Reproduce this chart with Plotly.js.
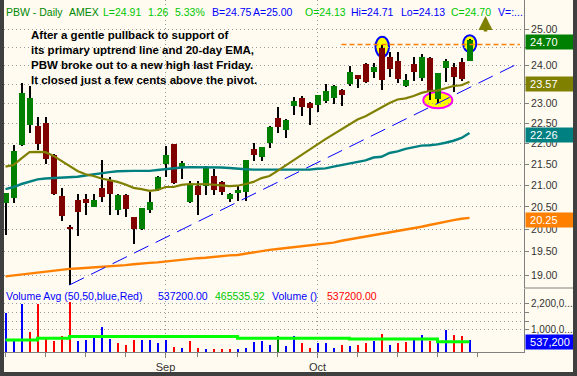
<!DOCTYPE html>
<html><head><meta charset="utf-8">
<script src="https://cdn.plot.ly/plotly-3.0.1.min.js"></script>
<style>
html,body{margin:0;padding:0;background:#3f3f3f;overflow:hidden;width:577px;height:376px;}
#chart{position:absolute;left:4px;top:0;width:569px;height:372px;}
</style></head><body><div id="chart"></div>
<script>
const dates = ['2007-08-06','2007-08-07','2007-08-08','2007-08-09','2007-08-10','2007-08-13','2007-08-14','2007-08-15','2007-08-16','2007-08-17',
 '2007-08-20','2007-08-21','2007-08-22','2007-08-23','2007-08-24','2007-08-27','2007-08-28','2007-08-29','2007-08-30','2007-08-31',
 '2007-09-04','2007-09-05','2007-09-06','2007-09-07','2007-09-10','2007-09-11','2007-09-12','2007-09-13','2007-09-14',
 '2007-09-17','2007-09-18','2007-09-19','2007-09-20','2007-09-21','2007-09-24','2007-09-25','2007-09-26','2007-09-27','2007-09-28',
 '2007-10-01','2007-10-02','2007-10-03','2007-10-04','2007-10-05','2007-10-08','2007-10-09','2007-10-10','2007-10-11','2007-10-12',
 '2007-10-15','2007-10-16','2007-10-17','2007-10-18','2007-10-19','2007-10-22','2007-10-23','2007-10-24','2007-10-25','2007-10-26'];
const open  = [20.58,20.71,21.97,22.46,22.44,22.50,21.72,20.75,20.05,20.66,20.68,20.50,20.93,21.11,20.43,20.78,20.26,20.00,20.43,20.89,
 21.50,21.99,21.42,20.62,20.99,20.99,21.23,21.07,20.67,20.81,20.85,21.86,21.68,22.01,22.64,22.33,22.95,23.16,23.03,22.98,
 23.08,23.16,23.36,23.51,23.74,24.04,23.84,24.48,24.24,24.11,23.47,24.04,23.67,24.21,23.12,23.94,23.95,24.09,24.13];
const high  = [20.83,21.97,23.55,23.47,22.67,22.67,21.74,20.93,20.09,20.80,20.80,20.80,21.60,21.19,20.80,20.80,20.28,20.48,20.85,21.22,
 21.95,22.00,21.58,21.11,21.10,21.45,21.38,21.09,20.83,20.98,21.61,22.01,21.92,22.44,22.92,22.61,23.18,23.20,23.05,23.23,
 23.51,23.49,23.38,23.99,23.76,24.06,24.06,24.57,24.36,24.37,23.77,24.24,24.30,24.22,23.80,24.18,24.08,24.20,24.71];
const low   = [19.87,20.58,21.94,22.26,21.84,21.50,20.77,20.19,18.79,19.85,20.32,20.49,20.62,20.32,20.32,20.26,19.67,19.98,20.37,20.87,
 21.19,21.04,21.15,20.60,20.32,20.78,20.78,20.78,20.62,20.64,20.64,21.58,21.58,21.88,22.27,22.14,22.71,22.68,22.45,22.80,
 23.01,22.99,22.93,23.47,23.40,23.53,23.67,23.36,23.70,23.55,23.44,23.59,23.59,23.10,23.01,23.56,23.30,23.59,24.13];
const close = [20.81,21.82,23.27,23.14,21.99,21.62,20.80,20.30,19.99,20.39,20.60,20.66,20.72,20.80,20.78,20.45,20.00,20.47,20.61,21.19,
 21.72,21.06,21.54,21.02,20.78,21.44,20.89,20.85,20.79,20.89,21.59,21.72,21.91,22.41,22.41,22.58,23.08,22.92,22.88,23.22,
 23.33,23.46,23.22,23.82,23.65,23.56,23.97,23.61,23.92,23.65,23.61,23.84,24.24,23.31,23.79,24.11,23.70,23.65,24.70];
const volume = [1786000,500000,2180000,920000,2180000,700000,500000,730000,2290000,500000,550000,650000,1150000,590000,420000,320000,550000,550000,550000,400000,
 550000,210000,170000,500000,170000,140000,140000,140000,140000,140000,200000,470000,500000,320000,730000,270000,730000,420000,200000,400000,
 400000,200000,320000,290000,320000,420000,500000,800000,320000,420000,470000,620000,770000,500000,400000,1000000,770000,730000,537200];
const ema20 = [21.44,21.48,21.64,21.79,21.80,21.79,21.70,21.58,21.44,21.34,21.26,21.22,21.16,21.12,21.08,21.02,20.94,20.91,20.87,20.89,
 20.96,20.96,21.01,21.03,21.02,21.03,21.02,21.00,20.98,20.99,21.03,21.08,21.17,21.22,21.34,21.47,21.60,21.73,21.86,21.98,
 22.11,22.23,22.36,22.49,22.60,22.68,22.79,22.92,23.02,23.11,23.14,23.20,23.28,23.33,23.34,23.40,23.46,23.48,23.57];
const ma50 = [20.91,20.96,21.03,21.08,21.14,21.16,21.17,21.19,21.19,21.20,21.23,21.26,21.28,21.31,21.33,21.34,21.34,21.34,21.34,21.36,
 21.38,21.41,21.42,21.43,21.43,21.42,21.42,21.42,21.41,21.39,21.38,21.37,21.37,21.37,21.37,21.37,21.37,21.37,21.37,21.39,
 21.40,21.44,21.48,21.52,21.56,21.59,21.66,21.68,21.77,21.81,21.87,21.91,21.95,21.96,21.98,22.02,22.07,22.14,22.26];
const ma200 = [18.97,18.99,19.01,19.03,19.05,19.08,19.10,19.11,19.13,19.14,19.15,19.17,19.18,19.19,19.20,19.21,19.23,19.25,19.26,19.27,
 19.29,19.31,19.33,19.34,19.36,19.37,19.39,19.40,19.42,19.43,19.46,19.49,19.51,19.54,19.56,19.58,19.60,19.62,19.64,19.66,
 19.68,19.70,19.74,19.77,19.80,19.84,19.87,19.90,19.93,19.96,19.99,20.01,20.05,20.09,20.13,20.17,20.20,20.23,20.25];
const volAvg = [545000,545000,545000,545000,620000,620000,620000,620000,700000,700000,700000,700000,700000,700000,700000,700000,700000,700000,700000,700000,
 700000,700000,700000,700000,700000,700000,700000,700000,700000,620000,620000,620000,620000,620000,620000,620000,620000,620000,620000,620000,
 620000,620000,620000,590000,590000,590000,590000,590000,590000,590000,590000,590000,590000,590000,465535.92,465535.92,465535.92,465535.92,465535.92];
const priceTicks = [19,19.5,20,20.5,21,21.5,22,22.5,23,23.5,24,24.5,25];
const volTicks = [1000000,1400000,1800000,2200000];
const volTickText = ['1,000,0...','','','2,200,0...'];
const monthNames = ['Jan','Feb','Mar','Apr','May','Jun','Jul','Aug','Sep','Oct','Nov','Dec'];
const quoteLast = 24.91, quoteBid = 24.75, quoteAsk = 25.00;

const FONT = 'Liberation Sans, Arial, sans-serif';
const n = dates.length, last = n-1;
const idx = dates.map((d,i)=>i);
const dObj = dates.map(d=>new Date(d+'T12:00:00Z'));
const monthIdx = [], monthTxt = [], weekIdx = [];
dObj.forEach((d,i)=>{
  if(i>0 && d.getUTCMonth()!==dObj[i-1].getUTCMonth()){monthIdx.push(i);monthTxt.push(monthNames[d.getUTCMonth()]);}
  if(i===0 || d.getUTCDay()<dObj[i-1].getUTCDay()) weekIdx.push(i);
});
weekIdx.push(n);
const xMin=-0.1875, xMax=64.8125, lineEnd=64.3;
const yRange=[1.27246,1.41199], PANE_PX=288;
const pxPerLog = PANE_PX/(yRange[1]-yRange[0]);
const fac = px => Math.pow(10, px/pxPerLog);

const bodyBase = open.map((o,i)=>Math.min(o,close[i]));
const bodySize = open.map((o,i)=>Math.max(Math.abs(close[i]-o),0.02));
const bodyColor = open.map((o,i)=>close[i]>=o?'#008000':'#800000');
const wickSize = high.map((h,i)=>h-low[i]);
const volColor = close.map((c,i)=> i===0||c>close[i-1] ? '#0000ff' : (c<close[i-1] ? '#ff0000' : '#008000'));

let pivotIdx=0; for(let i=0;i<n-1;i++) if(high[i]>high[pivotIdx]) pivotIdx=i;
const pivot = high[pivotIdx];
let t1=0; for(let i=0;i<n;i++) if(low[i]<low[t1]) t1=i;
let t2=n-10; for(let i=n-10;i<n;i++) if(low[i]<low[t2]) t2=i;
const slope=(Math.log10(low[t2])-Math.log10(low[t1]))/(t2-t1);
const trendEnd = Math.pow(10, Math.log10(low[t1])+slope*(lineEnd-t1));

const traces = [
 {type:'bar', x:idx, y:volume, yaxis:'y2', width:0.25, marker:{color:volColor,line:{width:0}}, hoverinfo:'skip'},
 {type:'scatter', mode:'lines', x:idx, y:volAvg, yaxis:'y2', line:{color:'#00ff00',width:3,shape:'hv'}, hoverinfo:'skip'},
 {type:'bar', x:idx, base:low, y:wickSize, width:0.25, marker:{color:'#000000',line:{width:0}}, hoverinfo:'skip'},
 {type:'bar', x:idx, base:bodyBase, y:bodySize, width:0.75, marker:{color:bodyColor,line:{width:0}}, hoverinfo:'skip'},
 {type:'scatter', mode:'lines', x:idx, y:ma200, line:{color:'#ff8000',width:2.4}, hoverinfo:'skip'},
 {type:'scatter', mode:'lines', x:idx, y:ma50, line:{color:'#008080',width:2.4}, hoverinfo:'skip'},
 {type:'scatter', mode:'lines', x:idx, y:ema20, line:{color:'#808000',width:2.2}, hoverinfo:'skip'},
 {type:'scatter', mode:'lines', x:[t1,lineEnd], y:[low[t1],trendEnd], line:{color:'#0000ff',width:1,dash:'16px,8px'}, hoverinfo:'skip'},
 {type:'scatter', mode:'lines', x:[pivotIdx-5,lineEnd], y:[pivot,pivot], line:{color:'#ff8000',width:1.5,dash:'5px,3px'}, hoverinfo:'skip'}
];

const H=352, W=520;
const py = px => 1 - px/H;
const pxX = x => (x-4)/W;
const ann = [];
function txt(text,x,y,color,size,extra){ann.push(Object.assign({xref:'paper',yref:'paper',x:pxX(x),y:py(y),xanchor:'left',yanchor:'middle',showarrow:false,text:text,font:{family:FONT,size:size||10.5,color:color}},extra||{}));}
const chg=quoteLast-close[last-1];
const LIME='#00c800', DG='#008800', BL='#0000ff';
txt('PBW - Daily',4,12,DG); txt('AMEX',67,12,DG);
txt('L='+quoteLast.toFixed(2),101,12,LIME); txt(chg.toFixed(2),146,12,LIME); txt((chg/close[last-1]*100).toFixed(2)+'%',173,12,LIME);
txt('B='+quoteBid.toFixed(2),210,12,BL); txt('A='+quoteAsk.toFixed(2),251,12,BL);
txt('O='+open[last].toFixed(2),303,12,LIME); txt('Hi='+high[last].toFixed(2),349,12,BL);
txt('Lo='+low[last].toFixed(2),399,12,BL); txt('C='+close[last].toFixed(2),449,12,LIME); txt('V=:...',496,12,BL);
txt('Volume Avg (50,50,blue,Red)',4,296,BL); txt(volume[last].toFixed(2),156,296,BL);
txt(volAvg[last].toFixed(2),213,296,LIME); txt('Volume ()',270,296,BL); txt(volume[last].toFixed(2),325,296,'#ff0000');
txt('<b>After a gentle pullback to support of<br>its primary uptrend line and 20-day EMA,<br>PBW broke out to a new high last Friday.<br>It closed just a few cents above the pivot.</b>',
    29,27,'#000000',11.5,{yanchor:'top',align:'left'});
const boxVals = [close[last], ema20[last], ma50[last], ma200[last]];
function box(val,yref,color,label){ann.push({xref:'paper',x:1,xanchor:'left',xshift:1,yref:yref,y:yref==='y'?Math.log10(val):val,yanchor:'middle',yshift:-2,
  text:'\u00a0'+label,showarrow:false,bgcolor:color,width:46,height:12,align:'left',borderpad:1,font:{family:FONT,size:11,color:'#ffffff'}});}
box(close[last],'y','#008000',close[last].toFixed(2));
box(ema20[last],'y','#808000',ema20[last].toFixed(2));
box(ma50[last],'y','#008080',ma50[last].toFixed(2));
box(ma200[last],'y','#ff8000',ma200[last].toFixed(2));
box(volume[last],'y2','#0000ff',volume[last].toLocaleString('en-US'));
ann.push({xref:'x',yref:'paper',x:n+1,y:py(16),ax:0,ay:17,showarrow:true,arrowhead:2,arrowsize:0.8,arrowwidth:3.5,arrowcolor:'#808000',standoff:0,text:''});

const priceTickText = priceTicks.map(t=> boxVals.some(v=>Math.abs(Math.log10(v)-Math.log10(t))*pxPerLog-2 < 6) ? '' : t.toFixed(2));

function ellipse(xc, yv, left, right, up, down, lineColor){
  return {type:'circle',layer:'below',xref:'x',yref:'y',xsizemode:'pixel',xanchor:xc,x0:left,x1:right,
    y0:yv/fac(down), y1:yv*fac(up), fillcolor:'#ffff00', line:{color:lineColor,width:2}};
}
const shapes = [
 {type:'line',xref:'paper',yref:'paper',x0:1,x1:1.2,y0:py(288),y1:py(288),line:{color:'#808080',width:1}},
 ellipse(pivotIdx, high[pivotIdx], -6, 7.5, 7.8, 12.2, '#0000ff'),
 ellipse(last, high[last], -6.3, 6.8, 4.2, 12.6, '#0000ff'),
 ellipse(t2, low[t2], -14.2, 14.8, 11.3, 5, '#ff00ff')
];

const grid = {showgrid:true,gridcolor:'#9a9a9a',gridwidth:1,griddash:'1px,3px'};
const layout = {
 width:569,height:372,margin:{l:0,r:49,t:0,b:20},paper_bgcolor:'#fffbf0',plot_bgcolor:'#fffbf0',
 showlegend:false,barmode:'overlay',bargap:0,hovermode:false,
 font:{family:FONT,size:10.5,color:'#333333'},
 xaxis:Object.assign({range:[xMin,xMax],anchor:'y2',showline:true,linecolor:'#808080',ticks:'outside',ticklen:5,tickcolor:'#808080',
   tickmode:'array',tickvals:monthIdx,ticktext:monthTxt,tickfont:{family:FONT,size:11,color:'#333'},zeroline:false,
   minor:{tickmode:'array',tickvals:weekIdx,ticks:'outside',ticklen:4,tickcolor:'#808080',showgrid:false}},grid),
 yaxis:Object.assign({type:'log',range:yRange,domain:[0.18182,1],side:'right',anchor:'x',showline:true,linecolor:'#808080',
   ticks:'outside',ticklen:4,tickcolor:'#808080',tickmode:'array',tickvals:priceTicks,ticktext:priceTickText,
   tickfont:{family:FONT,size:10.5,color:'#333'},zeroline:false},grid),
 yaxis2:Object.assign({range:[0,2.864e6],domain:[0,0.17898],side:'right',anchor:'x',showline:true,linecolor:'#808080',
   ticks:'outside',ticklen:4,tickcolor:'#808080',tickmode:'array',tickvals:volTicks,ticktext:volTickText,
   tickfont:{family:FONT,size:10,color:'#333'},zeroline:false},grid),
 annotations:ann, shapes:shapes
};
Plotly.newPlot('chart',traces,layout,{staticPlot:true,displayModeBar:false});
</script></body></html>
